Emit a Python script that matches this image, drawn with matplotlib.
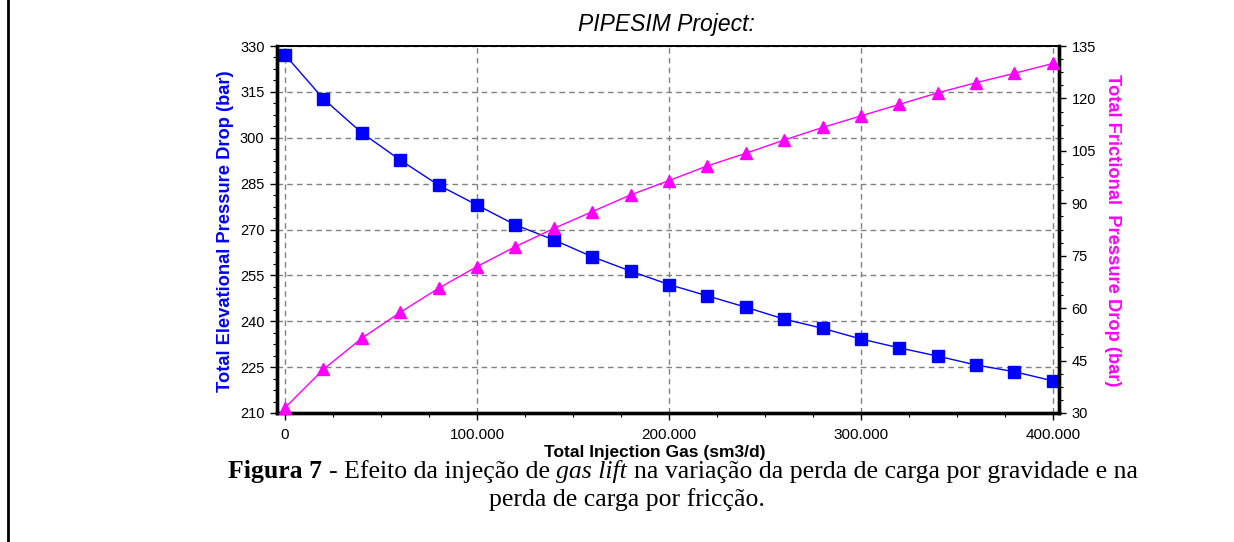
import matplotlib
matplotlib.use("Agg")
import matplotlib.pyplot as plt
from matplotlib.ticker import AutoMinorLocator, FuncFormatter
from matplotlib.lines import Line2D
from matplotlib.transforms import IdentityTransform

# Gas lift injection vs. pressure drops (PIPESIM output)
gas_injection = [0, 20000, 40000, 60000, 80000, 100000, 120000, 140000, 160000, 180000,
                 200000, 220000, 240000, 260000, 280000, 300000, 320000, 340000, 360000,
                 380000, 400000]
elevational_dp = [327.1, 312.7, 301.6, 292.7, 284.5, 278.0, 271.5, 266.6, 261.1, 256.4,
                  252.0, 248.3, 244.6, 240.7, 237.7, 234.2, 231.3, 228.6, 225.7, 223.5, 220.5]
frictional_dp = [31.5, 42.5, 51.4, 58.8, 65.7, 71.9, 77.6, 82.8, 87.6, 92.4,
                 96.5, 100.7, 104.3, 108.1, 111.7, 115.0, 118.3, 121.6, 124.5, 127.2, 130.0]

x_ticks = [0, 100000, 200000, 300000, 400000]
left_ticks = [210, 225, 240, 255, 270, 285, 300, 315, 330]
right_ticks = [30, 45, 60, 75, 90, 105, 120, 135]

W, H = 1234, 542
BLUE = "#0000ff"
MAGENTA = "#ff00ff"
SANS = "Liberation Sans"
SERIF = "Liberation Serif"

fig = plt.figure(figsize=(W / 100, H / 100), dpi=100)
fig.patch.set_facecolor("white")


def fx(px):
    return px / W


def fy(py):
    return 1 - py / H


# plot area in pixels: left 277, right 1059, top 46, bottom 413
ax = fig.add_axes([fx(277), fy(413), fx(1059 - 277), (413 - 46) / H])
ax2 = ax.twinx()

ax.plot(gas_injection, elevational_dp, color=BLUE, lw=1.0, marker="s", ms=9.3,
        mec=BLUE, mfc=BLUE, clip_on=False, zorder=3)
ax2.plot(gas_injection, frictional_dp, color=MAGENTA, lw=1.0, marker="^", ms=9.3,
         mec=MAGENTA, mfc=MAGENTA, clip_on=False, zorder=3)

ax.set_xlim(-4200, 403200)
ax.set_ylim(left_ticks[0], left_ticks[-1])
ax2.set_ylim(right_ticks[0], right_ticks[-1])

ax.set_xticks(x_ticks)
ax.set_yticks(left_ticks)
ax2.set_yticks(right_ticks)
ax.xaxis.set_minor_locator(AutoMinorLocator(4))
ax.yaxis.set_minor_locator(AutoMinorLocator(4))
ax2.yaxis.set_minor_locator(AutoMinorLocator(4))
ax.xaxis.set_major_formatter(FuncFormatter(lambda v, p: f"{int(v):,}".replace(",", ".")))

ax.grid(which="major", color="#808080", linestyle=(0, (4, 3)), linewidth=1.0)
ax.set_axisbelow(True)

for a in (ax, ax2):
    a.tick_params(which="major", direction="out", length=5, width=1, pad=4,
                  labelsize=10.5, colors="black")
    a.tick_params(which="minor", direction="out", length=3, width=0.8, colors="black")
    for lbl in a.get_xticklabels() + a.get_yticklabels():
        lbl.set_family(SANS)
    for side in ("left", "right", "bottom"):
        a.spines[side].set_linewidth(2.4)
    a.spines["top"].set_linewidth(1.2)

ax.tick_params(axis="x", pad=6, labelsize=11)

# axis titles
fig.text(fx(666), fy(24), "PIPESIM Project:", ha="center", va="center",
         family=SANS, style="italic", fontsize=16.5)
fig.text(fx(226), fy(231), "Total Elevational Pressure Drop (bar)", rotation=90,
         ha="center", va="center", family=SANS, weight="bold", fontsize=13.2, color=BLUE)
fig.text(fx(1112), fy(230), "Total Frictional  Pressure Drop (bar)", rotation=270,
         ha="center", va="center", family=SANS, weight="bold", fontsize=13.2, color=MAGENTA)
fig.text(fx(655), fy(453), "Total Injection Gas (sm3/d)", ha="center", va="center",
         family=SANS, weight="bold", fontsize=12.5)

# caption with mixed bold / italic runs
line1 = [("Figura 7", "bold", "normal"),
         ("- Efeito da injeção de", "normal", "normal"),
         ("gas lift", "normal", "italic"),
         ("na variação da perda de carga por gravidade e na", "normal", "normal")]
line2 = [("perda de carga por fricção.", "normal", "normal")]

renderer = fig.canvas.get_renderer()


def draw_runs(runs, xc, y0, size):
    # lay the runs out one after another, then centre the whole line on xc
    x = 0.0
    drawn = []
    for txt, weight, style in runs:
        t = fig.text(x, y0, txt, transform=IdentityTransform(), family=SERIF,
                     weight=weight, style=style, fontsize=size, va="baseline")
        ext = t.get_window_extent(renderer)
        drawn.append(t)
        end = ext.x1
        x = end + 0.25 * size * 100 / 72
    shift = xc - end / 2
    for t in drawn:
        px, py = t.get_position()
        t.set_position((px + shift, py))
    return drawn


cap_size = 18.5
draw_runs(line1, 683, H - 478, cap_size)
draw_runs(line2, 627, H - 506, cap_size)

# page frame line on the left
fig.add_artist(Line2D([fx(8), fx(8)], [0, 1], color="black", lw=2))

fig.savefig("out.png", dpi=100)
